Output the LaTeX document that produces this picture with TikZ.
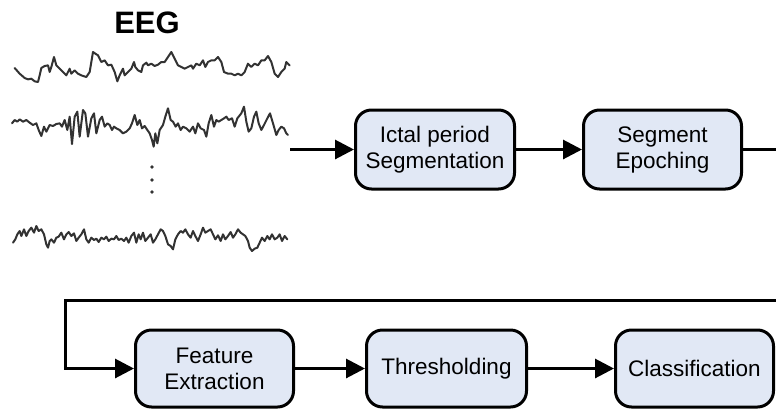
\documentclass[tikz,border=0pt]{standalone}
\usepackage{fontspec}
\setmainfont{Liberation Sans}
\usetikzlibrary{arrows.meta}
\definecolor{boxfill}{RGB}{225,232,245}
\definecolor{trace}{RGB}{50,50,50}
\begin{document}
\begin{tikzpicture}[x=1pt,y=-1pt,
  procbox/.style={draw=black,line width=3pt,fill=boxfill,rounded corners=16pt,
    minimum width=#1,minimum height=78pt,inner sep=0pt,align=center,
    font=\fontsize{22.5}{26}\selectfont},
  flow/.style={line width=3pt,-{Triangle[length=19pt,width=19pt]}},
  eegtrace/.style={trace,line width=2pt,line join=round,line cap=round}]
\useasboundingbox (0,0) rectangle (776,410);

\node[font=\bfseries\fontsize{31}{34}\selectfont] (eeg) at (147,23) {EEG};

\begin{scope}[xshift=8pt,yshift=-42pt,x=1pt/3,y=-1pt/3]
\draw[eegtrace] (20,78)--(35,95)--(50,108)--(60,112)--(70,110)--(80,118)--(90,120)--(95,100)--(100,78)--(110,72)--(120,70)--(125,90)--(130,75)--(138,45)--(145,70)--(155,80)--(165,90)--(175,100)--(185,80)--(190,95)--(200,85)--(210,95)--(220,100)--(235,105)--(245,90)--(255,30)--(262,35)--(270,40)--(280,60)--(290,55)--(300,70)--(310,68)--(320,90)--(328,118)--(335,100)--(345,80)--(350,100)--(360,90)--(370,80)--(378,60)--(382,75)--(390,85)--(400,90)--(405,70)--(415,62)--(420,70)--(430,65)--(440,72)--(450,68)--(460,60)--(470,60)--(480,45)--(490,30)--(500,50)--(510,70)--(520,75)--(530,80)--(540,75)--(550,70)--(555,80)--(565,65)--(575,70)--(585,55)--(592,75)--(600,60)--(610,55)--(620,55)--(630,45)--(640,60)--(648,90)--(660,95)--(670,95)--(680,100)--(690,95)--(700,100)--(710,90)--(720,65)--(730,75)--(740,65)--(750,70)--(760,55)--(770,55)--(780,42)--(790,60)--(800,95)--(810,105)--(820,90)--(830,80)--(835,60)--(845,70);
\end{scope}

\begin{scope}[xshift=8pt,yshift=-100pt,x=1pt/3,y=-1pt/3]
\draw[eegtrace] (12,70)--(20,60)--(28,65)--(35,58)--(45,65)--(55,60)--(65,68)--(75,75)--(85,70)--(92,90)--(100,108)--(108,80)--(115,95)--(125,75)--(135,78)--(145,72)--(155,70)--(162,80)--(170,60)--(178,90)--(185,50)--(192,132)--(200,50)--(208,35)--(215,110)--(225,30)--(232,40)--(240,110)--(250,55)--(258,40)--(265,100)--(275,60)--(282,50)--(290,80)--(298,70)--(305,75)--(312,90)--(318,80)--(325,85)--(335,90)--(345,100)--(355,95)--(365,85)--(372,70)--(380,45)--(388,75)--(395,60)--(402,85)--(410,78)--(418,90)--(425,100)--(432,120)--(437,140)--(442,100)--(448,130)--(455,90)--(465,75)--(472,50)--(480,25)--(488,60)--(495,65)--(503,80)--(510,70)--(518,90)--(525,80)--(535,85)--(545,95)--(555,80)--(562,100)--(570,70)--(578,85)--(588,90)--(595,110)--(602,70)--(610,45)--(618,80)--(625,60)--(632,65)--(640,60)--(648,55)--(655,50)--(662,60)--(672,55)--(680,80)--(688,55)--(700,40)--(708,20)--(715,65)--(722,95)--(730,85)--(738,50)--(745,35)--(752,70)--(760,90)--(768,75)--(778,55)--(786,40)--(795,70)--(805,105)--(812,90)--(820,80)--(828,85)--(835,100)--(840,105);
\end{scope}

\begin{scope}[xshift=8pt,yshift=-216pt,x=1pt/3,y=-1pt/3]
\draw[eegtrace] (15,80)--(22,70)--(28,55)--(35,45)--(40,60)--(48,40)--(55,60)--(62,45)--(70,35)--(78,50)--(85,30)--(92,45)--(100,40)--(108,55)--(115,85)--(120,95)--(125,75)--(130,70)--(138,80)--(145,65)--(152,62)--(160,50)--(168,70)--(175,55)--(182,48)--(190,60)--(198,52)--(205,75)--(212,65)--(220,55)--(228,40)--(235,70)--(242,80)--(250,65)--(258,72)--(265,68)--(272,78)--(280,65)--(288,70)--(295,62)--(302,75)--(310,68)--(318,70)--(325,60)--(332,72)--(340,68)--(348,75)--(355,65)--(362,80)--(370,60)--(378,50)--(385,80)--(392,55)--(398,70)--(405,50)--(412,75)--(420,65)--(428,55)--(435,80)--(442,70)--(450,55)--(458,40)--(465,45)--(472,60)--(480,85)--(488,90)--(495,100)--(502,70)--(510,55)--(518,45)--(525,50)--(532,40)--(540,55)--(548,65)--(555,45)--(562,60)--(570,75)--(578,55)--(585,35)--(592,50)--(600,45)--(608,40)--(615,55)--(622,70)--(630,58)--(638,75)--(645,55)--(652,70)--(660,60)--(668,48)--(675,65)--(682,55)--(690,40)--(698,50)--(705,55)--(712,60)--(720,75)--(725,95)--(732,105)--(740,98)--(748,95)--(755,80)--(762,65)--(770,75)--(778,60)--(785,70)--(792,55)--(800,70)--(808,65)--(815,55)--(822,75)--(830,60)--(838,70);
\end{scope}

\fill[trace] (152,167) circle (1.8) (152,180) circle (1.8) (152,192) circle (1.8);

\node[procbox=159pt,minimum height=79pt] (ictal) at (435,149.5) {Ictal period\\Segmentation};
\node[procbox=158pt,minimum height=79pt] (epoch) at (662.5,149.5) {Segment\\Epoching};
\node[procbox=158pt,minimum height=77pt] (feat) at (214.5,368.5) {Feature\\Extraction};
\node[procbox=160pt,minimum height=77pt] (thr) at (446.5,368.5) {Thresholding};
\node[procbox=158pt,minimum height=77pt] (cls) at (694.5,368.5) {Classification};

\coordinate (start) at (290,149.5);
\coordinate (r1) at (780,149.5);
\coordinate (r2) at (780,300);
\coordinate (l1) at (65,300);

\draw[flow] (start) -- (ictal.west);
\draw[flow] (ictal.east) -- (epoch.west);
\draw[flow] (epoch.east) -- (r1) -- (r2) -- (l1) |- (feat.west);
\draw[flow] (feat.east) -- (thr.west);
\draw[flow] (thr.east) -- (cls.west);
\end{tikzpicture}
\end{document}
